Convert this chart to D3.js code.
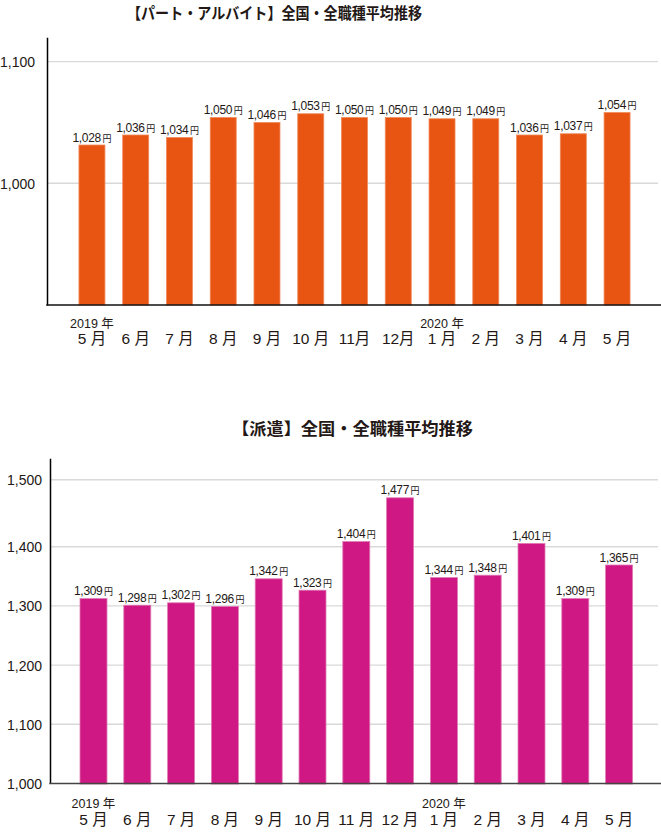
<!DOCTYPE html>
<html><head><meta charset="utf-8">
<script src="https://cdn.jsdelivr.net/npm/d3@7"></script>
<style>body{margin:0;background:#fff} svg{display:block}</style>
</head><body>
<svg id="c" width="661" height="832"></svg>
<script>
// ---------- data ----------
const partTitle = "【パート・アルバイト】全国・全職種平均推移";
const partMonths = ["5 月","6 月","7 月","8 月","9 月","10 月","11月","12月","1 月","2 月","3 月","4 月","5 月"];
const partValues = [1028,1036,1034,1050,1046,1053,1050,1050,1049,1049,1036,1037,1054];
const partTicks = [1000, 1100];

const hakenTitle = "【派遣】全国・全職種平均推移";
const hakenMonths = ["5 月","6 月","7 月","8 月","9 月","10 月","11 月","12 月","1 月","2 月","3 月","4 月","5 月"];
const hakenValues = [1309,1298,1302,1296,1342,1323,1404,1477,1344,1348,1401,1309,1365];
const hakenTicks = [1000, 1100, 1200, 1300, 1400, 1500];

const yearIndex = [0, 8];
const yearLabels = ["2019 年", "2020 年"];
const unit = "円";

// ---------- drawing ----------
const svg = d3.select("#c");
const INK = "#231815";
const NUM_FONT = "'Liberation Sans', 'Noto Sans CJK JP', sans-serif";
const JP_FONT = "'Noto Sans CJK JP', sans-serif";
const fmt = d3.format(",");

function drawChart(o) {
  const g = svg.append("g");
  const x = d3.scaleBand().domain(d3.range(o.values.length))
    .range(o.xRange).paddingInner(o.pi).paddingOuter(o.po);

  // title
  g.append("text").attr("x", o.titleX).attr("y", o.titleY)
    .attr("fill", INK)
    .style("font-family", JP_FONT).style("font-weight", "bold").style("font-size", o.titleSize)
    .attr("textLength", o.titleLen).attr("lengthAdjust", "spacingAndGlyphs")
    .text(o.title);

  // gridlines
  g.append("g").selectAll("line").data(o.ticks.filter(d => d !== o.base)).join("line")
    .attr("x1", o.xRange[0]).attr("x2", o.gridEnd)
    .attr("y1", d => o.yAxis(d)).attr("y2", d => o.yAxis(d))
    .attr("stroke", "#d9d9d9").attr("stroke-width", 1.4);

  // bars
  g.append("g").selectAll("rect").data(o.values).join("rect")
    .attr("x", (d, i) => x(i)).attr("width", x.bandwidth())
    .attr("y", d => o.yBar(d)).attr("height", d => o.yBar(o.base) - o.yBar(d))
    .attr("fill", o.color).attr("stroke", o.edge).attr("stroke-width", 0.8);

  // value labels
  const vl = g.append("g").selectAll("text").data(o.values).join("text")
    .attr("x", (d, i) => x(i) + x.bandwidth() / 2)
    .attr("y", d => o.yBar(d) - 3.5)
    .attr("text-anchor", "middle").attr("fill", INK);
  vl.append("tspan").style("font-family", NUM_FONT).style("font-size", "12px")
    .style("letter-spacing", "-0.3px").text(d => fmt(d));
  vl.append("tspan").attr("dx", 1.5).style("font-family", JP_FONT).style("font-size", "9px").text(unit);

  // y axis
  const ax = g.append("g").attr("transform", `translate(${o.xRange[0]},0)`)
    .call(d3.axisLeft(o.yAxis).tickValues(o.ticks).tickSize(0).tickSizeOuter(0)
      .tickPadding(o.tickPad).tickFormat(fmt));
  ax.select(".domain").attr("stroke", "#000").attr("stroke-width", 1.5);
  ax.selectAll(".tick text").attr("fill", INK)
    .style("font-family", NUM_FONT).style("font-size", "14px").attr("dy", "0.36em");

  // baseline
  g.append("line").attr("x1", o.xRange[0] - 0.75).attr("x2", o.gridEnd + 3)
    .attr("y1", o.yAxis(o.base)).attr("y2", o.yAxis(o.base))
    .attr("stroke", o.baseColor).attr("stroke-width", 1.5);

  // month labels
  g.append("g").selectAll("text").data(o.months).join("text")
    .attr("x", (d, i) => x(i) + x.bandwidth() / 2).attr("y", o.monthY)
    .attr("text-anchor", "middle").attr("fill", INK)
    .style("font-family", NUM_FONT).style("font-size", "15.5px").text(d => d);

  // year labels
  g.append("g").selectAll("text").data(yearLabels).join("text")
    .attr("x", (d, i) => x(yearIndex[i]) + x.bandwidth() / 2).attr("y", o.yearY)
    .attr("text-anchor", "middle").attr("fill", INK)
    .style("font-family", NUM_FONT).style("font-size", "12.5px").text(d => d);
}

drawChart({
  title: partTitle, titleX: 127, titleY: 18.5, titleLen: 295, titleSize: "15.5px",
  values: partValues, months: partMonths, ticks: partTicks, base: 900,
  xRange: [47, 662], pi: 0.406, po: 0.73, gridEnd: 658,
  yAxis: d3.scaleLinear().domain([900, 1120]).range([305, 37.3]),
  yBar: d3.scaleLinear().domain([900, 1100]).range([305, 55]),
  color: "#E85513", edge: "#F08A5A", baseColor: "#111", tickPad: 12,
  monthY: 344, yearY: 327.5
});

drawChart({
  title: hakenTitle, titleX: 232, titleY: 434.5, titleLen: 241, titleSize: "16.5px",
  values: hakenValues, months: hakenMonths, ticks: hakenTicks, base: 1000,
  xRange: [50, 662.6], pi: 0.384, po: 0.685, gridEnd: 658,
  yAxis: d3.scaleLinear().domain([1000, 1400, 1532]).range([783.5, 546.7, 458.3]),
  yBar: d3.scaleLinear().domain([1000, 1500]).range([784, 484]),
  color: "#CF1884", edge: "#E07AB5", baseColor: "#444", tickPad: 8,
  monthY: 824.5, yearY: 807.5
});
</script>
</body></html>
